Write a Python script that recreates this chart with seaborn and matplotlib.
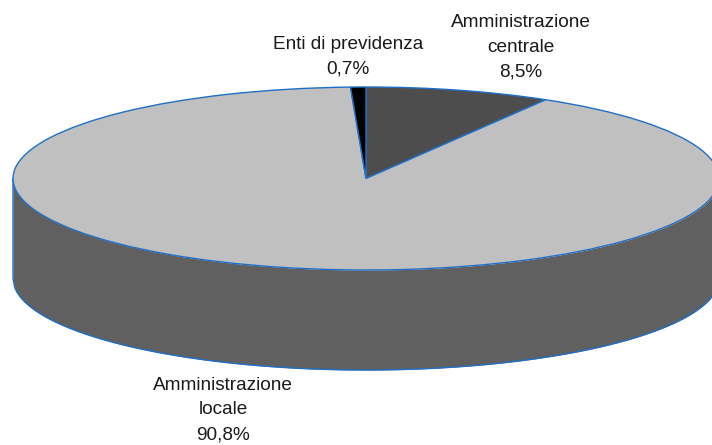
import numpy as np
import matplotlib
matplotlib.use('Agg')
import matplotlib.pyplot as plt
import seaborn as sns

# Data
categories = ['Amministrazione\ncentrale', 'Amministrazione\nlocale', 'Enti di previdenza']
shares = [8.5, 90.8, 0.7]
slice_colors = ['#4d4d4d', '#c0c0c0', '#000000']
side_color = '#606060'
edge_color = '#1f6fc8'

sns.set_theme(style='white')
plt.rcParams['font.family'] = ['Liberation Sans', 'DejaVu Sans']

W, H = 712, 445
fig = plt.figure(figsize=(W / 100, H / 100), dpi=100)
ax = fig.add_axes([0, 0, 1, 1])

# Squashed pie: centre and radii in pixels
cx, cy, rx, ry, depth = 366, 178.5, 353, 91.5, 100

# Side wall of the cylinder
t = np.linspace(-1, 1, 400)
lower = -np.sqrt(1 - t ** 2)
ax.fill_between(t, lower, lower - depth / ry, color=side_color, lw=0, zorder=1)
ax.plot(np.r_[-1, t, 1], np.r_[0, lower - depth / ry, 0], color=edge_color, lw=1.0, zorder=1.5)

wedges, _ = ax.pie(shares, colors=slice_colors, startangle=90, counterclock=False, radius=1,
                   wedgeprops=dict(edgecolor=edge_color, linewidth=1.0, zorder=2))

ax.set_aspect('auto')
ax.set_xlim(-cx / rx, (W - cx) / rx)
ax.set_ylim(-(H - cy) / ry, cy / ry)
ax.axis('off')

# Labels
label_pos = [(521, 47.5), (223, 410), (348, 57)]
for cat, val, (px, py) in zip(categories, shares, label_pos):
    txt = cat + '\n' + f'{val:.1f}%'.replace('.', ',')
    fig.text(px / W, 1 - py / H, txt, ha='center', va='center', fontsize=13.7,
             color='#1a1a1a', linespacing=1.58)

plt.savefig('out.png', dpi=100)
